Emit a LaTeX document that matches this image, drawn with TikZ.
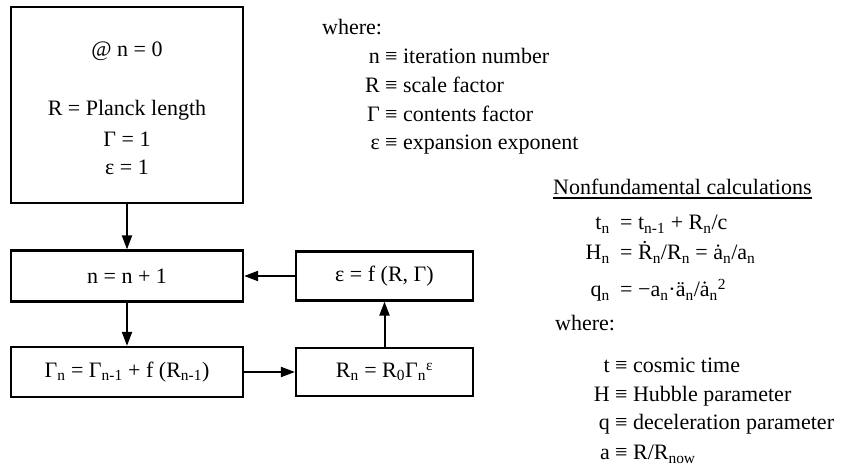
\documentclass[tikz,border=0pt]{standalone}
\usepackage{fontspec}
\setmainfont{Liberation Serif}
\usetikzlibrary{arrows.meta}
\tikzset{
  stage/.style={draw, line width=2.2pt, inner sep=0pt, font=\fontsize{22}{26}\selectfont},
  txt/.style={inner sep=0pt, font=\fontsize{22}{26}\selectfont},
  flow/.style={line width=2pt, -{Triangle[length=14pt,width=10pt]}},
}
\begin{document}
\begin{tikzpicture}[x=1pt,y=-1pt]
\useasboundingbox (0,0) rectangle (844,470);
% iteration loop
\node[stage, minimum width=232pt, minimum height=196pt] (init) at (127,105) {};
\node[txt, anchor=base] (nzero) at (127,57) {@ n = 0};
\node[txt, anchor=base] (rzero) at (127,116) {R = Planck length};
\node[txt, anchor=base] (gzero) at (127,147) {Γ = 1};
\node[txt, anchor=base] (ezero) at (127,175) {ε = 1};
\node[stage, minimum width=232pt, minimum height=51pt] (incr) at (127,276) {n = n + 1};
\node[stage, minimum width=177pt, minimum height=49pt] (expo) at (384.5,276) {ε = f (R, Γ)};
\node[stage, minimum width=232pt, minimum height=50pt] (cont) at (127,372) {Γ\textsubscript{n} = Γ\textsubscript{n-1} + f (R\textsubscript{n-1})};
\node[stage, minimum width=177pt, minimum height=48pt] (scal) at (384.5,372) {R\textsubscript{n} = R\textsubscript{0}Γ\textsubscript{n}\textsuperscript{ε}};
\draw[flow] (init) -- (incr);
\draw[flow] (incr) -- (cont);
\draw[flow] (cont) -- (scal);
\draw[flow] (scal) -- (expo);
\draw[flow] (expo) -- (incr);
% definitions
\node[txt, anchor=base west] (where) at (322,35) {where:};
\node[txt, anchor=base east] (sn) at (380,64) {n};
\node[txt, anchor=base west] (dn) at (385,64) {≡ iteration number};
\node[txt, anchor=base east] (sr) at (380,93) {R};
\node[txt, anchor=base west] (dr) at (385,93) {≡ scale factor};
\node[txt, anchor=base east] (sg) at (380,122) {Γ};
\node[txt, anchor=base west] (dg) at (385,122) {≡ contents factor};
\node[txt, anchor=base east] (se) at (380,150) {ε};
\node[txt, anchor=base west] (de) at (385,150) {≡ expansion exponent};
% nonfundamental calculations
\node[txt, anchor=base west] (calc) at (553,195) {Nonfundamental calculations};
\draw[line width=1.3pt] ([yshift=-3pt]calc.base west) -- ([yshift=-3pt]calc.base east);
\node[txt, anchor=base east] (lt) at (610,230) {t\textsubscript{n}};
\node[txt, anchor=base west] (rt) at (620,230) {= t\textsubscript{n-1} + R\textsubscript{n}/c};
\node[txt, anchor=base east] (lh) at (610,260) {H\textsubscript{n}};
\node[txt, anchor=base west] (rh) at (620,260) {= Ṙ\textsubscript{n}/R\textsubscript{n} = ȧ\textsubscript{n}/a\textsubscript{n}};
\node[txt, anchor=base east] (lq) at (610,297) {q\textsubscript{n}};
\node[txt, anchor=base west] (rq) at (620,297) {= −a\textsubscript{n}·ä\textsubscript{n}/ȧ\textsubscript{n}\textsuperscript{2}};
\node[txt, anchor=base west] (wheretoo) at (555,331) {where:};
\node[txt, anchor=base east] (st) at (610,373) {t};
\node[txt, anchor=base west] (dt) at (615,373) {≡ cosmic time};
\node[txt, anchor=base east] (sh) at (610,402) {H};
\node[txt, anchor=base west] (dh) at (615,402) {≡ Hubble parameter};
\node[txt, anchor=base east] (sq) at (610,430) {q};
\node[txt, anchor=base west] (dq) at (615,430) {≡ deceleration parameter};
\node[txt, anchor=base east] (sa) at (610,460) {a};
\node[txt, anchor=base west] (da) at (615,460) {≡ R/R\textsubscript{now}};
\end{tikzpicture}
\end{document}
